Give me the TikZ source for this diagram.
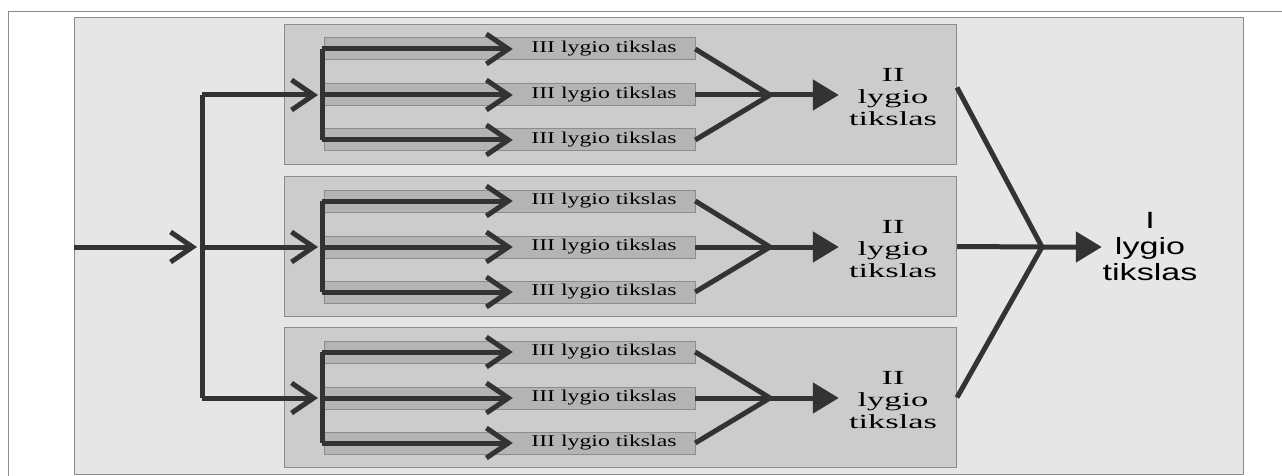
\documentclass[tikz,border=0pt]{standalone}
\usepackage{fontspec}
\setmainfont{Liberation Serif}
\newfontfamily\arialf{Liberation Sans}
\usetikzlibrary{arrows.meta,calc}
\definecolor{lnc}{HTML}{333333}
\definecolor{bgc}{HTML}{E6E6E6}
\definecolor{pnl}{HTML}{CCCCCC}
\definecolor{barc}{HTML}{B4B4B4}
\definecolor{brd}{HTML}{8C8C8C}
\begin{document}
\begin{tikzpicture}[x=1pt,y=-1pt,
  conn/.style={draw=lnc, line width=5pt},
  barb/.style={-{Straight Barb[length=22pt,width=30pt]}},
  tri/.style={-{Triangle[length=26pt,width=30pt]}},
  panel/.style={draw=brd, fill=pnl, line width=1pt, minimum width=672pt, minimum height=140pt, inner sep=0pt, anchor=north west},
  barbox/.style={draw=brd, fill=barc, line width=1pt, minimum width=371pt, minimum height=22pt, inner sep=0pt, anchor=west},
  lvlthree/.style={minimum width=182pt, minimum height=22pt, inner sep=0pt, font=\fontsize{16.5}{18}\selectfont},
  lvltwo/.style={minimum width=108pt, inner sep=0pt, font=\fontsize{20}{22}\selectfont},
  lvlone/.style={minimum width=96pt, inner sep=0pt, font=\arialf\fontsize{23.5}{26}\selectfont}
]
\useasboundingbox (0,0) rectangle (1282,476);
\fill[white] (0,0) rectangle (1282,476);
\draw[brd, line width=1pt] (8,476) -- (8,12) -- (1282,12);
\draw[brd, fill=bgc, line width=1pt] (74,18) rectangle (1243,474);

\foreach \i/\t in {1/24,2/176,3/327}{
  \node[panel] (p\i) at (284,\t) {};
  \foreach \r/\dy in {1/25,2/71,3/116}{
    \node[barbox] (b\i\r) at (324,{\t+\dy}) {};
    \node[lvlthree] (t\i\r) at (604,{\t+\dy}) {\scalebox{1.44}[1]{III lygio tikslas}};
    \coordinate (c\i\r) at (322,{\t+\dy});
  }
  \draw[conn, line cap=square] (c\i1) -- (c\i3);
  \foreach \r in {1,2,3}{
    \draw[conn, barb] (c\i\r) -- (t\i\r.west);
  }
  \coordinate (j\i) at (770,{\t+71});
  \draw[conn] (t\i1.east) -- (j\i);
  \draw[conn] (t\i3.east) -- (j\i);
  \draw[conn] (t\i2.east) -- (j\i);
  \node[lvltwo] (ii\i) at (893,{\t+75}) {\scalebox{1.72}[1]{\begin{tabular}{@{}c@{}}II\\lygio\\tikslas\end{tabular}}};
  \draw[conn, tri] (j\i) -- (j\i -| ii\i.west);
  \coordinate (L\i) at (202,{\t+71});
  \draw[conn, barb, shorten >=4pt] (L\i) -- (c\i2);
}

% left input and main vertical
\coordinate (in) at (74,247);
\draw[conn, line cap=square] (L1) -- (L3);
\draw[conn, barb, shorten >=5pt] (in) -- (L2);

% right fan
\coordinate (J) at (1042,247);
\node[lvlone] (top) at (1150,249) {\scalebox{1.45}[1]{\begin{tabular}{@{}c@{}}I\\lygio\\tikslas\end{tabular}}};
\draw[conn] ($(p1.east)+(0,-7)$) -- (J);
\draw[conn] (p3.east) -- (J);
\draw[conn, tri] (p2.east) -- (J) -- (J -| top.west);
\end{tikzpicture}
\end{document}
